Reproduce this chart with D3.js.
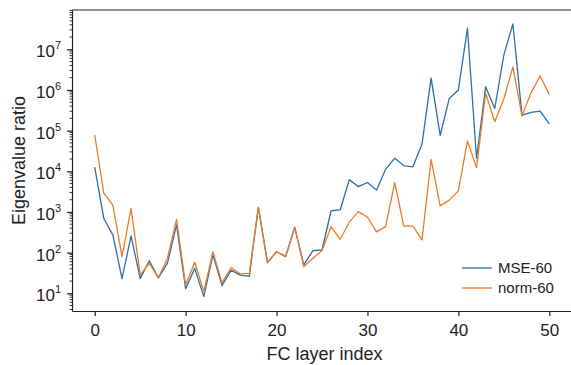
<!DOCTYPE html>
<html lang="en">
<head>
  <meta charset="UTF-8">
  <title>Eigenvalue ratio per FC layer</title>
  <script src="https://d3js.org/d3.v7.min.js"></script>
  <style>
    body { margin: 0; background: #fff; }
    svg { display: block; font-family: "Liberation Sans", Arial, sans-serif; }
  </style>
</head>
<body>
<div id="chart"></div>
<script>
  // layer index 0..50
  const layers = d3.range(0, 51);

  const mse60 = [
    12600, 690, 270, 23, 257, 23, 63, 24, 55, 480,
    13, 41, 8.3, 88, 15.4, 37, 28, 26, 1300, 57,
    105, 80, 420, 50, 112, 116, 1070, 1120, 6200, 4200,
    5300, 3460, 11200, 21000, 13800, 12900, 46700, 1.96e6, 7.6e4, 6.2e5,
    1.0e6, 3.3e7, 2.1e4, 1.2e6, 3.5e5, 7.2e6, 4.2e7, 2.4e5, 2.8e5, 3.0e5,
    1.46e5
  ];

  const norm60 = [
    78000, 2900, 1480, 80, 1230, 28, 55, 24, 73, 660,
    16, 58, 11, 105, 18, 43, 30, 31, 1300, 57,
    105, 80, 420, 45, 73, 112, 435, 213, 560, 1020,
    740, 325, 435, 5300, 450, 450, 205, 19500, 1410, 1950,
    3300, 5.6e4, 1.23e4, 8.3e5, 1.66e5, 6.0e5, 3.7e6, 2.3e5, 8.6e5, 2.2e6,
    7.8e5
  ];

  const xTicks = [0, 10, 20, 30, 40, 50];
  const yExponents = [1, 2, 3, 4, 5, 6, 7];

  const series = [
    { name: "MSE-60", values: mse60, color: "#2c6fad" },
    { name: "norm-60", values: norm60, color: "#ee7b22" }
  ];

  const width = 571, height = 365;
  const margin = { top: 10, right: -1, bottom: 54, left: 72 };

  const svg = d3.select("#chart").append("svg")
    .attr("width", width).attr("height", height);

  const x = d3.scaleLinear().domain([-2.5, 52.5])
    .range([margin.left, width - margin.right]);
  const y = d3.scaleLog().domain([3.67, 9.25e7])
    .range([height - margin.bottom, margin.top]);

  const textColor = "#222";

  // x axis
  const xAxis = svg.append("g")
    .attr("transform", `translate(0,${height - margin.bottom})`)
    .call(d3.axisBottom(x).tickValues(xTicks).tickSize(5).tickPadding(8).tickSizeOuter(0));
  xAxis.select(".domain").attr("stroke", textColor).attr("stroke-width", 1.2);
  xAxis.selectAll(".tick line").attr("stroke", textColor).attr("stroke-width", 1.2);
  xAxis.selectAll(".tick text").attr("font-size", 17).attr("fill", textColor)
    .attr("font-family", "Liberation Sans, Arial, sans-serif");

  // y axis: minor ticks
  const minorVals = [];
  for (let e = 0; e <= 7; e++) {
    for (let m = 2; m <= 9; m++) {
      const v = m * Math.pow(10, e);
      if (v >= y.domain()[0] && v <= y.domain()[1]) minorVals.push(v);
    }
  }
  const yAxis = svg.append("g").attr("transform", `translate(${margin.left},0)`);
  yAxis.selectAll(".minor").data(minorVals).enter().append("line")
    .attr("class", "minor")
    .attr("x1", -2.5).attr("x2", 0)
    .attr("y1", d => y(d)).attr("y2", d => y(d))
    .attr("stroke", textColor).attr("stroke-width", 0.9);

  const majors = yExponents.map(e => Math.pow(10, e));
  yAxis.call(d3.axisLeft(y).tickValues(majors).tickSize(5).tickPadding(6).tickSizeOuter(0)
    .tickFormat(() => ""));
  yAxis.select(".domain").attr("stroke", textColor).attr("stroke-width", 1.2);
  yAxis.selectAll(".tick line").attr("stroke", textColor).attr("stroke-width", 1.2);
  yAxis.selectAll(".tick").each(function (d, i) {
    const t = d3.select(this).select("text")
      .attr("font-size", 17).attr("fill", textColor)
      .attr("font-family", "Liberation Sans, Arial, sans-serif")
      .attr("dy", "0.45em");
    t.text("10");
    t.append("tspan").attr("font-size", 11).attr("dy", "-0.75em").text(yExponents[i]);
  });

  // frame top and right
  svg.append("line")
    .attr("x1", margin.left).attr("x2", width - margin.right)
    .attr("y1", margin.top).attr("y2", margin.top)
    .attr("stroke", textColor).attr("stroke-width", 1.2);
  svg.append("line")
    .attr("x1", width - margin.right).attr("x2", width - margin.right)
    .attr("y1", margin.top).attr("y2", height - margin.bottom)
    .attr("stroke", textColor).attr("stroke-width", 1.2);

  // lines
  const line = d3.line().x((d, i) => x(layers[i])).y(d => y(d));
  svg.selectAll(".series").data(series).enter().append("path")
    .attr("class", "series")
    .attr("d", d => line(d.values))
    .attr("fill", "none")
    .attr("stroke", d => d.color)
    .attr("stroke-width", 1.3)
    .attr("stroke-linejoin", "round");

  // axis labels
  svg.append("text")
    .attr("x", (margin.left + width) / 2 + 3).attr("y", 360)
    .attr("text-anchor", "middle").attr("font-size", 18).attr("fill", textColor)
    .text("FC layer index");
  svg.append("text")
    .attr("transform", `translate(25,${(margin.top + height - margin.bottom) / 2}) rotate(-90)`)
    .attr("text-anchor", "middle").attr("font-size", 18).attr("fill", textColor)
    .text("Eigenvalue ratio");

  // legend
  const legend = svg.append("g").attr("transform", "translate(462,268)");
  series.forEach((s, i) => {
    const g = legend.append("g").attr("transform", `translate(0,${i * 20})`);
    g.append("line").attr("x1", 0).attr("x2", 30).attr("y1", 0).attr("y2", 0)
      .attr("stroke", s.color).attr("stroke-width", 1.3);
    g.append("text").attr("x", 36).attr("y", 0).attr("dy", "0.35em")
      .attr("font-size", 15).attr("fill", textColor).text(s.name);
  });
</script>
</body>
</html>
